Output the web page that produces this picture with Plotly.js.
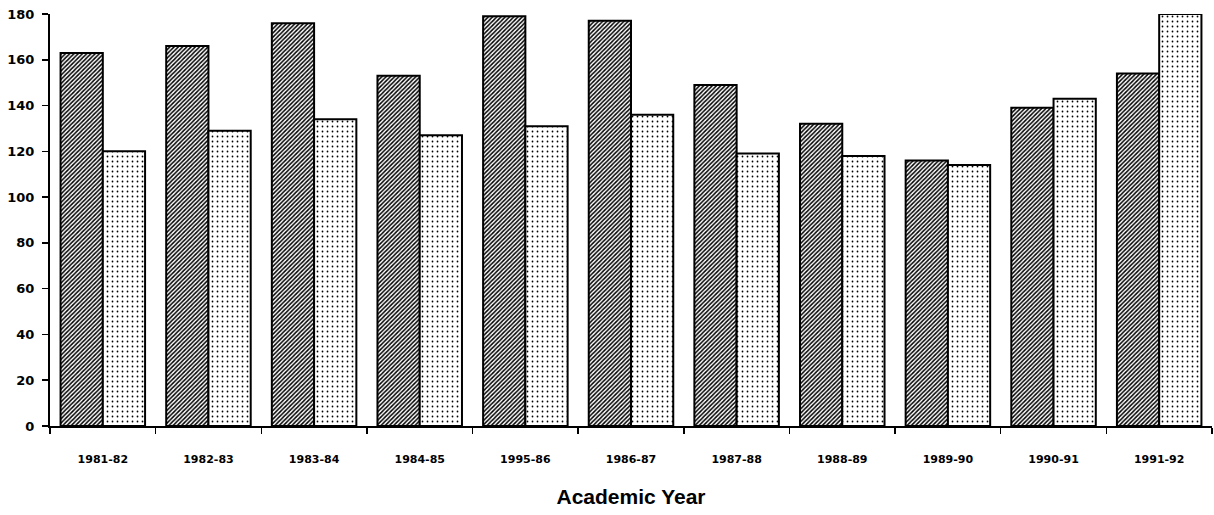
<!DOCTYPE html>
<html>
<head>
<meta charset="utf-8">
<script src="https://cdn.plot.ly/plotly-3.0.1.min.js"></script>
<style>html,body{margin:0;padding:0;background:#fff;}#chart{width:1214px;height:515px;}</style>
</head>
<body>
<div id="chart"></div>
<script>
const years = ["1981-82","1982-83","1983-84","1984-85","1995-86","1986-87","1987-88","1988-89","1989-90","1990-91","1991-92"];
const hatchedSeries = [163,166,176,153,179,177,149,132,116,139,154];
const dottedSeries  = [120,129,134,127,131,136,119,118,114,143,180];
const yTicks = [0,20,40,60,80,100,120,140,160,180];

const traces = [
  {
    type: "bar", x: years, y: hatchedSeries, name: "Series A",
    marker: {color: "#ffffff", line: {color: "#000", width: 2},
      pattern: {shape: "/", fgcolor: "#000", bgcolor: "#fff", size: 3, solidity: 0.5}},
    hoverinfo: "x+y"
  },
  {
    type: "bar", x: years, y: dottedSeries, name: "Series B",
    marker: {color: "#ffffff", line: {color: "#000", width: 2},
      pattern: {shape: ".", fgcolor: "#000", bgcolor: "#fff", size: 5, solidity: 0.1}},
    hoverinfo: "x+y"
  }
];

const layout = {
  width: 1214, height: 515,
  margin: {l: 50, r: 2, t: 14, b: 89},
  paper_bgcolor: "#fff", plot_bgcolor: "#fff",
  showlegend: false,
  barmode: "group", bargap: 0.2, bargroupgap: 0,
  font: {family: "DejaVu Sans, Liberation Sans, Arial, sans-serif", color: "#000"},
  xaxis: {
    type: "category",
    showline: true, linecolor: "#000", linewidth: 2,
    ticks: "outside", tickson: "boundaries", ticklen: 6, tickwidth: 1.5, tickcolor: "#000",
    tickfont: {family: "DejaVu Sans, Arial, sans-serif", size: 11, weight: "bold"},
    ticklabelstandoff: 22,
    showgrid: false, zeroline: false,
    title: {text: "Academic Year", font: {family: "Liberation Sans, Arial, sans-serif", size: 21, weight: "bold"}, standoff: 24}
  },
  yaxis: {
    range: [0, 180],
    tickvals: yTicks, ticktext: yTicks.map(String),
    showline: true, linecolor: "#000", linewidth: 2,
    ticks: "outside", ticklen: 6, tickwidth: 1.5, tickcolor: "#000",
    tickfont: {family: "DejaVu Sans, Arial, sans-serif", size: 13, weight: "bold"},
    ticklabelstandoff: 5,
    showgrid: false, zeroline: false
  }
};

Plotly.newPlot("chart", traces, layout, {displayModeBar: false, staticPlot: true});
</script>
</body>
</html>
